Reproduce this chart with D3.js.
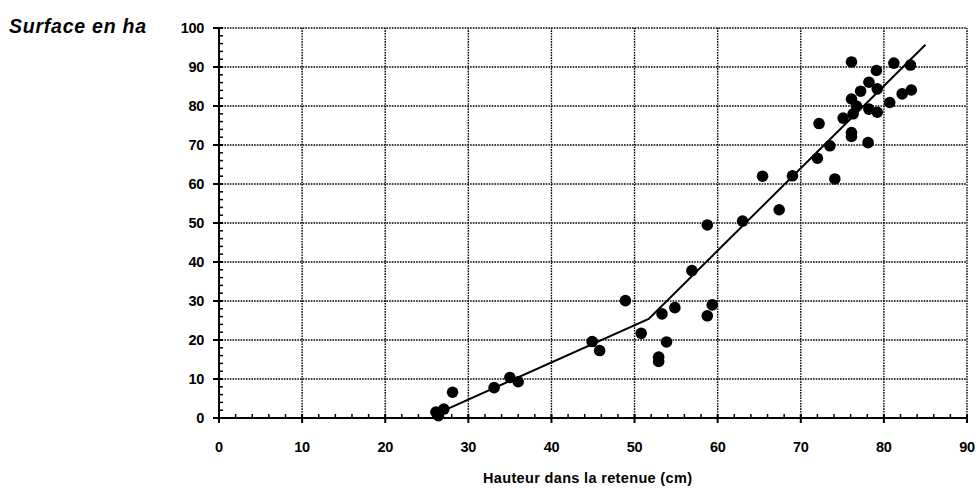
<!DOCTYPE html>
<html>
<head>
<meta charset="utf-8">
<script src="https://cdn.jsdelivr.net/npm/d3@7"></script>
<style>
  body { margin: 0; background: #fff; }
  svg text { font-family: "Liberation Sans", Arial, sans-serif; fill: #000; }
</style>
</head>
<body>
<div id="chart"></div>
<script>
// Mesures : hauteur (cm) / surface (ha)
const hauteur = [26.1, 26.4, 27.05, 28.1, 33.1, 35.0, 36.0, 44.9, 45.8, 48.9,
  50.8, 53.3, 53.85, 52.9, 52.9, 54.85, 56.9, 58.75, 58.75, 59.35,
  63.0, 65.4, 67.4, 69.0, 74.1, 72.0, 73.5, 76.1, 76.1, 78.1,
  72.2, 75.1, 76.3, 76.7, 76.1, 77.2, 78.2, 79.2, 78.2, 79.2,
  80.7, 82.2, 83.3, 79.1, 76.1, 81.2, 83.2];
const surface = [1.5, 0.6, 2.3, 6.6, 7.8, 10.4, 9.3, 19.6, 17.3, 30.1,
  21.7, 26.7, 19.5, 15.6, 14.5, 28.3, 37.8, 49.5, 26.2, 29.0,
  50.5, 62.0, 53.4, 62.1, 61.3, 66.6, 69.8, 73.2, 72.2, 70.6,
  75.5, 76.9, 78.0, 80.0, 81.8, 83.8, 86.1, 84.4, 79.2, 78.4,
  80.9, 83.1, 84.1, 89.1, 91.3, 91.0, 90.5];

// Courbe d'ajustement
const courbeX = [26.5, 51.7, 85.0];
const courbeY = [1.4, 25.4, 95.7];

const xTicks = [0, 10, 20, 30, 40, 50, 60, 70, 80, 90];
const yTicks = [0, 10, 20, 30, 40, 50, 60, 70, 80, 90, 100];

const width = 980, height = 488;
const margin = { top: 28, right: 13, bottom: 70, left: 219 };

const svg = d3.select('#chart')
  .append('svg')
  .attr('width', width)
  .attr('height', height);

const x = d3.scaleLinear().domain([0, 90]).range([margin.left, width - margin.right]);
const y = d3.scaleLinear().domain([0, 100]).range([height - margin.bottom, margin.top]);

// Grille pointillée
const grid = svg.append('g')
  .attr('stroke', '#000')
  .attr('stroke-width', 1.4)
  .attr('stroke-dasharray', '1.6,1.1');

grid.selectAll('line.h')
  .data(yTicks.filter(d => d > 0))
  .join('line')
  .attr('x1', x(0)).attr('x2', x(90))
  .attr('y1', d => y(d)).attr('y2', d => y(d));

grid.selectAll('line.v')
  .data(xTicks.filter(d => d > 0))
  .join('line')
  .attr('x1', d => x(d)).attr('x2', d => x(d))
  .attr('y1', y(0)).attr('y2', y(100));

// Axes
const minorX = d3.range(0, 91, 2);
const minorY = d3.range(0, 101, 2);

const xAxis = svg.append('g')
  .attr('transform', `translate(0,${y(0)})`);
xAxis.append('line')
  .attr('x1', x(0)).attr('x2', x(90))
  .attr('stroke', '#000').attr('stroke-width', 2);
xAxis.selectAll('line.minor')
  .data(minorX)
  .join('line')
  .attr('x1', d => x(d)).attr('x2', d => x(d))
  .attr('y1', -4).attr('y2', 0)
  .attr('stroke', '#000').attr('stroke-width', 1.5);
xAxis.selectAll('line.major')
  .data(xTicks)
  .join('line')
  .attr('x1', d => x(d)).attr('x2', d => x(d))
  .attr('y1', -4).attr('y2', 5)
  .attr('stroke', '#000').attr('stroke-width', 2);
xAxis.selectAll('text')
  .data(xTicks)
  .join('text')
  .attr('x', d => x(d))
  .attr('y', 34)
  .attr('text-anchor', 'middle')
  .style('font-size', '14.5px')
  .style('font-weight', 'bold')
  .style('letter-spacing', '-0.3px')
  .text(d => d);

const yAxis = svg.append('g')
  .attr('transform', `translate(${x(0)},0)`);
yAxis.append('line')
  .attr('y1', y(0)).attr('y2', y(100))
  .attr('stroke', '#000').attr('stroke-width', 2);
yAxis.selectAll('line.minor')
  .data(minorY)
  .join('line')
  .attr('y1', d => y(d)).attr('y2', d => y(d))
  .attr('x1', 0).attr('x2', 4)
  .attr('stroke', '#000').attr('stroke-width', 1.5);
yAxis.selectAll('line.major')
  .data(yTicks)
  .join('line')
  .attr('y1', d => y(d)).attr('y2', d => y(d))
  .attr('x1', -6).attr('x2', 4)
  .attr('stroke', '#000').attr('stroke-width', 2);
yAxis.selectAll('text')
  .data(yTicks)
  .join('text')
  .attr('x', -15)
  .attr('y', d => y(d) + 5)
  .attr('text-anchor', 'end')
  .style('font-size', '14.5px')
  .style('font-weight', 'bold')
  .style('letter-spacing', '-0.3px')
  .text(d => d);

// Courbe
const courbe = courbeX.map((d, i) => [d, courbeY[i]]);
svg.append('path')
  .datum(courbe)
  .attr('fill', 'none')
  .attr('stroke', '#000')
  .attr('stroke-width', 2)
  .attr('d', d3.line().x(d => x(d[0])).y(d => y(d[1])));

// Points
svg.append('g')
  .selectAll('circle')
  .data(hauteur.map((d, i) => [d, surface[i]]))
  .join('circle')
  .attr('cx', d => x(d[0]))
  .attr('cy', d => y(d[1]))
  .attr('r', 5.8)
  .attr('fill', '#000');

// Titres
svg.append('text')
  .attr('x', 9)
  .attr('y', 33)
  .attr('textLength', 137)
  .style('font-size', '19.5px')
  .style('font-weight', 'bold')
  .style('font-style', 'italic')
  .text('Surface en ha');

svg.append('text')
  .attr('x', 483)
  .attr('y', 483)
  .attr('textLength', 209)
  .style('font-size', '14.5px')
  .style('font-weight', 'bold')
  .text('Hauteur dans la retenue (cm)');
</script>
</body>
</html>
